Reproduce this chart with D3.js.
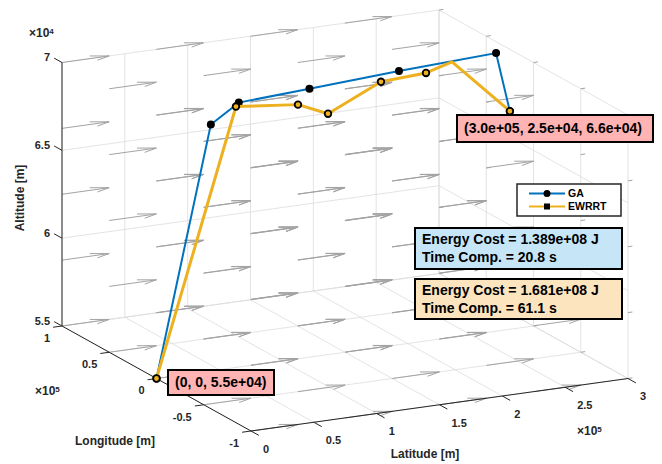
<!DOCTYPE html>
<html><head><meta charset="utf-8">
<script src="https://cdn.jsdelivr.net/npm/d3@7"></script>
<style>
body{margin:0;background:#fff}
svg{display:block}
text{font-family:"Liberation Sans",Arial,Helvetica,sans-serif;font-weight:bold}
</style>
</head><body>
<svg id="c" width="662" height="464"></svg>
<script>
// ---- data ----
const latTicks = [0, 0.5, 1, 1.5, 2, 2.5, 3];      // x 1e5
const lonTicks = [-1, -0.5, 0, 0.5, 1];            // x 1e5
const altTicks = [5.5, 6, 6.5, 7];                 // x 1e4
const latTickLabels = ["0","0.5","1","1.5","2","2.5","3"];
const lonTickLabels = ["-1","-0.5","0","0.5","1"];
const altTickLabels = ["5.5","6","6.5","7"];

const gaLat = [0, 47000, 73000, 133000, 208000, 289000, 300000];
const gaLon = [0, 5000, 10000, 15000, 20000, 25000, 25000];
const gaAlt = [55000, 68840, 69680, 69720, 69840, 69900, 66480];

const ewLat = [0, 65500, 118600, 144000, 189900, 229500, 251700, 300000];
const ewLon = [0, 3000, 8000, 10000, 15000, 20000, 22000, 25000];
const ewAlt = [55000, 69740, 69170, 68340, 69550, 69510, 69860, 66480];
const ewMarked = [1, 1, 1, 1, 1, 1, 0, 1];

// wind field (quiver3) grid and vector
const windLat = [0, 75000, 150000, 225000, 300000];
const windLon = [-100000, -50000, 0, 50000, 100000];
const windAlt = [55000, 58750, 62500, 66250, 70000];
const windU = 37500, windV = 0, windW = 0;

const tipStart = "(0, 0, 5.5e+04)";
const tipEnd = "(3.0e+05, 2.5e+04, 6.6e+04)";
const gaInfo = ["Energy Cost = 1.389e+08 J", "Time Comp. = 20.8 s"];
const ewInfo = ["Energy Cost = 1.681e+08 J", "Time Comp. = 61.1 s"];

// ---- projection (orthographic view) ----
const xS = d3.scaleLinear().domain([0, 3e5]).range([0, 1]);
const yS = d3.scaleLinear().domain([-1e5, 1e5]).range([0, 1]);
const zS = d3.scaleLinear().domain([5.5e4, 7e4]).range([0, 1]);
const O = [251, 431], EX = [377, -52.5], EY = [-189, -105], EZ = [0, -263.5];
function P(x, y, z) {
  const a = xS(x), b = yS(y), c = zS(z);
  return [O[0] + a*EX[0] + b*EY[0] + c*EZ[0], O[1] + a*EX[1] + b*EY[1] + c*EZ[1]];
}
function unit(v){const l=Math.hypot(v[0],v[1]);return [v[0]/l,v[1]/l];}

const svg = d3.select("#c");
const gGrid = svg.append("g").attr("stroke", "#dcdcdc").attr("stroke-width", 0.8).attr("fill","none");
function seg(g, a, b) { g.append("line").attr("x1", a[0]).attr("y1", a[1]).attr("x2", b[0]).attr("y2", b[1]); }

const X0 = 0, X1 = 3e5, Y0 = -1e5, Y1 = 1e5, Z0 = 5.5e4, Z1 = 7e4;
// floor
latTicks.forEach(t => seg(gGrid, P(t*1e5, Y0, Z0), P(t*1e5, Y1, Z0)));
lonTicks.forEach(t => seg(gGrid, P(X0, t*1e5, Z0), P(X1, t*1e5, Z0)));
// back wall y = 1e5
latTicks.forEach(t => seg(gGrid, P(t*1e5, Y1, Z0), P(t*1e5, Y1, Z1)));
altTicks.forEach(t => seg(gGrid, P(X0, Y1, t*1e4), P(X1, Y1, t*1e4)));
// right wall x = 3e5
lonTicks.forEach(t => seg(gGrid, P(X1, t*1e5, Z0), P(X1, t*1e5, Z1)));
altTicks.forEach(t => seg(gGrid, P(X1, Y0, t*1e4), P(X1, Y1, t*1e4)));

// quiver
const gQ = svg.append("g").attr("stroke", "#a3a3a3").attr("stroke-width", 1).attr("fill","none");
const alpha = 0.33, beta = 0.33;
windLat.forEach(x => windLon.forEach(y => windAlt.forEach(z => {
  const xe = x + windU;
  if (xe <= X1) {
    seg(gQ, P(x, y, z), P(xe, y + windV, z + windW));
    const h1 = P(xe - alpha*(windU + beta*windV), y + windV - alpha*(windV - beta*windU), z);
    const h2 = P(xe - alpha*(windU - beta*windV), y + windV - alpha*(windV + beta*windU), z);
    const tp = P(xe, y + windV, z);
    gQ.append("path").attr("d", `M${h1[0]},${h1[1]}L${tp[0]},${tp[1]}L${h2[0]},${h2[1]}`);
  } else {
    seg(gQ, P(x, y, z), P(X1 + 3500, y, z));
  }
})));

// axes lines
const gA = svg.append("g").attr("stroke", "#262626").attr("stroke-width", 1);
seg(gA, P(X0, Y1, Z0), P(X0, Y1, Z1));
seg(gA, P(X0, Y0, Z0), P(X0, Y1, Z0));
seg(gA, P(X0, Y0, Z0), P(X1, Y0, Z0));
const tl = 9;
const uY = unit(EY), uX = unit(EX);
altTicks.forEach(t => { const a = P(X0, Y1, t*1e4); seg(gA, a, [a[0]+uY[0]*tl, a[1]+uY[1]*tl]); });
lonTicks.forEach(t => { const a = P(X0, t*1e5, Z0); seg(gA, a, [a[0]-uX[0]*tl, a[1]-uX[1]*tl]); });
latTicks.forEach(t => { const a = P(t*1e5, Y0, Z0); seg(gA, a, [a[0]-uY[0]*tl, a[1]-uY[1]*tl]); });

const gT = svg.append("g").attr("fill", "#262626").attr("font-size", 11);
altTicks.forEach((t,i) => { const a = P(X0, Y1, t*1e4);
  gT.append("text").attr("x", a[0]-12).attr("y", a[1]-5).attr("dy","0.35em").attr("text-anchor","end").text(altTickLabels[i]); });
lonTicks.forEach((t,i) => { const a = P(X0, t*1e5, Z0);
  gT.append("text").attr("x", a[0]-12).attr("y", a[1]+12).attr("dy","0.35em").attr("text-anchor","end").text(lonTickLabels[i]); });
latTicks.forEach((t,i) => { const a = P(t*1e5, Y0, Z0);
  gT.append("text").attr("x", a[0]+12).attr("y", a[1]+18).attr("dy","0.35em").attr("text-anchor","start").text(latTickLabels[i]); });

function expo(x, y, p) {
  const t = gT.append("text").attr("x", x).attr("y", y).attr("font-size", 12).attr("dy","0.35em");
  t.append("tspan").text("\u00d710");
  t.append("tspan").attr("dy", "-0.45em").attr("font-size", 8).text(p);
}
expo(29, 33, "4");
expo(35, 391, "5");
expo(577, 431, "5");

// axis labels
gT.append("text").attr("x", 115).attr("y", 441).attr("dy","0.35em").attr("text-anchor","middle").attr("font-size",12).text("Longitude [m]");
gT.append("text").attr("x", 425).attr("y", 454).attr("dy","0.35em").attr("text-anchor","middle").attr("font-size",12).text("Latitude [m]");
gT.append("text").attr("transform","translate(20,198) rotate(-90)").attr("dy","0.35em").attr("text-anchor","middle").attr("font-size",12).text("Altitude [m]");

// paths
const line = d3.line();
const gaPts = gaLat.map((d,i) => P(d, gaLon[i], gaAlt[i]));
const ewPts = ewLat.map((d,i) => P(d, ewLon[i], ewAlt[i]));
svg.append("path").attr("d", line(gaPts)).attr("fill","none").attr("stroke","#0072BD").attr("stroke-width",2);
svg.selectAll(".gam").data(gaPts).join("circle").attr("cx", d=>d[0]).attr("cy", d=>d[1]).attr("r", 4).attr("fill","#000");
svg.append("path").attr("d", line(ewPts)).attr("fill","none").attr("stroke","#EDB120").attr("stroke-width",3).attr("stroke-linejoin","round");
svg.selectAll(".ewm").data(ewPts.filter((d,i)=>ewMarked[i])).join("circle").attr("cx", d=>d[0]).attr("cy", d=>d[1]).attr("r", 3.3).attr("fill","#EDB120").attr("stroke","#000").attr("stroke-width",1.8);

// boxes
function box(x, y, w, h, fill, lines, fs, lh) {
  svg.append("rect").attr("x", x).attr("y", y).attr("width", w).attr("height", h).attr("fill", fill).attr("stroke", "#000").attr("stroke-width", 2);
  lines.forEach((s, i) => svg.append("text").attr("x", x + 7).attr("y", y + h/2 + (i - (lines.length-1)/2)*lh).attr("dy","0.35em").attr("font-size", fs).attr("fill","#000").text(s));
}
box(168, 370, 106, 25, "#ffb3b3", [tipStart], 14, 0);
box(457, 115, 196, 27, "#ffb3b3", [tipEnd], 14, 0);
box(415, 228, 207, 41, "#c6e6f7", gaInfo, 14, 18);
box(415, 279, 207, 40, "#fbe4be", ewInfo, 14, 18);

// legend
const lg = svg.append("g");
lg.append("rect").attr("x", 517).attr("y", 184).attr("width", 104).attr("height", 32).attr("fill","#fff").attr("stroke","#262626").attr("stroke-width",1.5);
lg.append("line").attr("x1",529).attr("x2",565).attr("y1",193.5).attr("y2",193.5).attr("stroke","#0072BD").attr("stroke-width",2);
lg.append("circle").attr("cx",547).attr("cy",193.5).attr("r",3.5).attr("fill","#000");
lg.append("line").attr("x1",529).attr("x2",565).attr("y1",206.5).attr("y2",206.5).attr("stroke","#EDB120").attr("stroke-width",2);
lg.append("rect").attr("x",544).attr("y",203.5).attr("width",6).attr("height",6).attr("fill","#000");
lg.append("text").attr("x",568).attr("y",193.5).attr("dy","0.35em").attr("font-size",10.5).attr("fill","#000").text("GA");
lg.append("text").attr("x",568).attr("y",206.5).attr("dy","0.35em").attr("font-size",10.5).attr("fill","#000").text("EWRRT");
</script>
</body></html>
